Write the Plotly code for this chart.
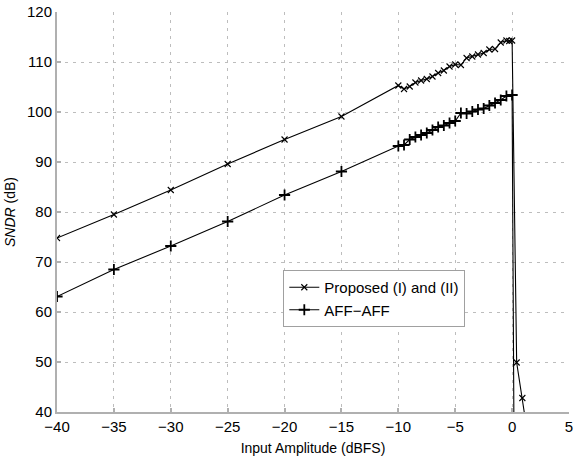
import plotly.graph_objects as go

# Proposed (I) and (II)
prop_x = [-40, -35, -30, -25, -20, -15, -10, -9.5, -9, -8.5, -8, -7.5, -7, -6.5, -6,
          -5.5, -5, -4.5, -4, -3.5, -3, -2.5, -2, -1.5, -1, -0.5, -0.25, 0, 0.4, 0.9, 1.4]
prop_y = [74.8, 79.5, 84.4, 89.6, 94.5, 99.1, 105.3, 104.6, 105.1, 105.9, 106.3, 106.6,
          107.1, 107.8, 108.3, 109.1, 109.5, 109.4, 110.8, 111.1, 111.5, 111.8, 112.5,
          112.6, 113.9, 114.3, 114.2, 114.3, 49.9, 42.8, 35.0]

# AFF-AFF
aff_x = [-40, -35, -30, -25, -20, -15, -10, -9.5, -9, -8.5, -8, -7.5, -7, -6.5, -6,
         -5.5, -5, -4.5, -4, -3.5, -3, -2.5, -2, -1.5, -1, -0.5, 0, 0.2]
aff_y = [63.1, 68.5, 73.2, 78.1, 83.4, 88.1, 93.2, 93.4, 94.5, 95.0, 95.4, 95.8, 96.4,
         97.0, 97.3, 97.8, 98.2, 99.8, 99.7, 100.1, 100.5, 100.7, 101.3, 101.8, 102.4,
         103.2, 103.4, 20.0]

x_ticks = [-40, -35, -30, -25, -20, -15, -10, -5, 0, 5]
y_ticks = [40, 50, 60, 70, 80, 90, 100, 110, 120]

FONT = "Liberation Sans, Arial, sans-serif"

fig = go.Figure()
fig.add_trace(go.Scatter(
    x=prop_x, y=prop_y, mode="lines+markers", name="Proposed (I) and (II)",
    line=dict(color="black", width=1.1),
    marker=dict(symbol="x-thin", size=6, color="black", line=dict(color="black", width=1.1)),
))
fig.add_trace(go.Scatter(
    x=aff_x, y=aff_y, mode="lines+markers", name="AFF\u2212AFF",
    line=dict(color="black", width=1.1),
    marker=dict(symbol="cross-thin", size=8, color="black", line=dict(color="black", width=1.8)),
))

axis_common = dict(
    showgrid=True, gridcolor="#bdbdbd", griddash="3px,5px", gridwidth=1,
    zeroline=False, showline=True, linecolor="#b0b0b0", linewidth=2,
    ticks="inside", ticklen=4, tickcolor="#b0b0b0", tickwidth=1.5, automargin=False,
    tickfont=dict(family=FONT, size=15, color="black"),
)

fig.update_layout(
    width=579, height=457,
    margin=dict(l=57, r=10, t=12, b=45),
    paper_bgcolor="white", plot_bgcolor="white",
    font=dict(family=FONT, color="black"),
    xaxis=dict(range=[-40, 5], tickvals=x_ticks, **axis_common,
               title=dict(text="Input Amplitude (dBFS)", font=dict(size=14), standoff=9)),
    yaxis=dict(range=[40, 120], tickvals=y_ticks, **axis_common,
               title=dict(text="<i>SNDR</i> (dB)", font=dict(size=14), standoff=8)),
    legend=dict(x=0.442, y=0.355, xanchor="left", yanchor="top",
                bgcolor="white", bordercolor="#a0a0a0", borderwidth=1,
                font=dict(size=15), tracegroupgap=0, itemwidth=30),
    showlegend=True,
)

fig.write_html("out.html")
